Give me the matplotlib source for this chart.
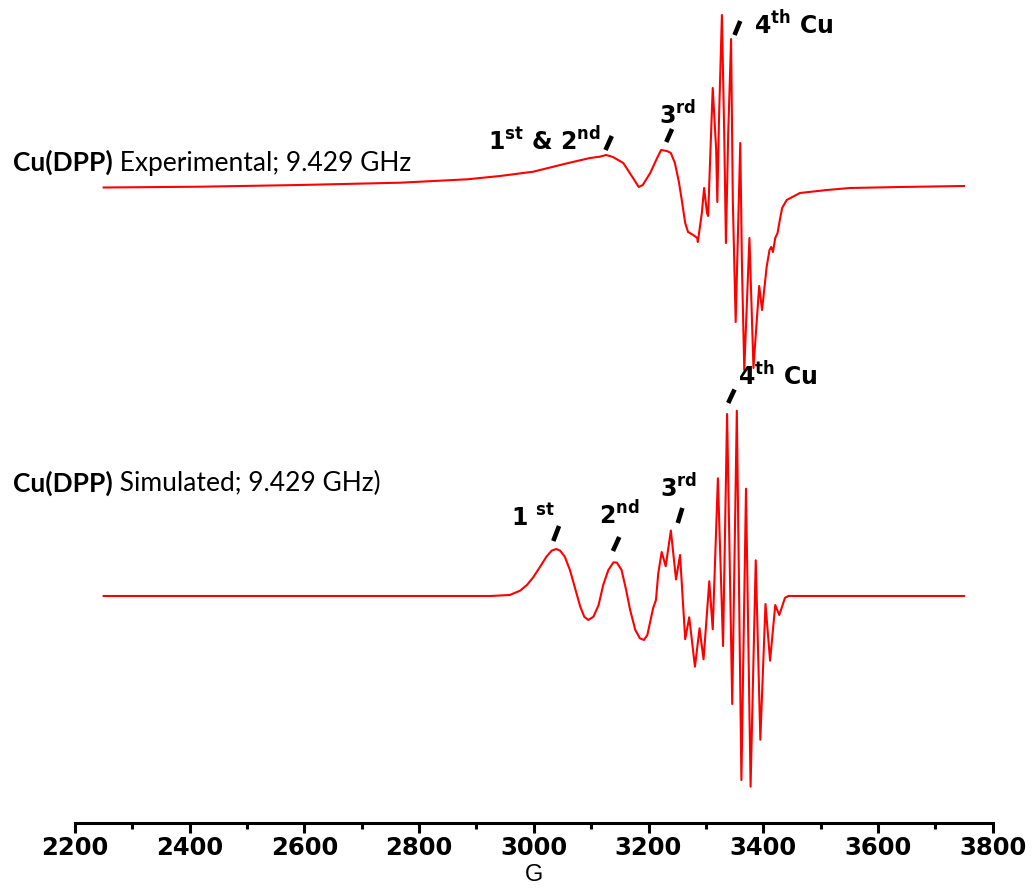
import matplotlib
matplotlib.use("Agg")
import matplotlib.pyplot as plt
from matplotlib.ticker import MultipleLocator

plt.rcParams['mathtext.fontset'] = 'custom'
plt.rcParams['mathtext.rm'] = 'DejaVu Sans:bold'
plt.rcParams['mathtext.bf'] = 'DejaVu Sans:bold'

# ---------------- data ----------------
# Experimental spectrum: field (G) and intensity (a.u., baseline ~0)
exp_field = [2250, 2418, 2592, 2767, 2884, 2941, 2999, 3058, 3098, 3115, 3126, 3138,
             3156, 3173, 3183, 3190, 3203, 3215, 3222, 3232, 3239, 3246, 3253, 3258,
             3264, 3269, 3278, 3285, 3286, 3293, 3297, 3302, 3304, 3307, 3312, 3318,
             3320, 3323, 3328, 3332, 3335, 3339, 3344, 3347, 3352, 3356, 3360, 3363,
             3367, 3376, 3383, 3393, 3398, 3406, 3411, 3414, 3417, 3421, 3425, 3429,
             3433, 3441, 3464, 3511, 3551, 3639, 3750]
exp_int = [-0.5, 0.3, 2, 4.3, 7.7, 11, 15.3, 23.7, 29, 30.3, 32, 30,
           24, 9, 0, 2, 14, 29, 37, 36, 34, 24, 5, -13,
           -36, -45, -48, -51, -55, -26, -1, -26, -29, 20, 99, 37,
           -15, 70, 172, 54, -56, 54, 148, -13, -135, -46, 44, -80,
           -183, -51, -181, -99, -123, -80, -63, -60, -65, -51, -46, -33,
           -21, -13, -6, -3, -1, 0, 1]

# Simulated spectrum
sim_field = [2250, 2924, 2958, 2976, 2988, 2999, 3011, 3022, 3031, 3039, 3046, 3054,
             3063, 3072, 3081, 3088, 3095, 3104, 3113, 3121, 3130, 3139, 3145, 3153,
             3161, 3168, 3177, 3185, 3192, 3198, 3203, 3208, 3213, 3217, 3223, 3230,
             3239, 3248, 3255, 3264, 3271, 3281, 3289, 3296, 3306, 3312, 3321, 3330,
             3337, 3346, 3354, 3362, 3370, 3378, 3387, 3395, 3404, 3412, 3421, 3428,
             3438, 3444, 3750]
sim_int = [0, 0, 1, 5.3, 11, 18.7, 29.3, 39.3, 45.3, 47, 45.3, 39.3,
           26, 7.7, -10.7, -20.7, -24, -20.7, -9, 11, 26, 33.7, 33.3, 26,
           6, -14, -34, -42.3, -44, -39, -25.7, -12.3, -4, 22.7, 44, 29.7,
           65.5, 16.5, 41, -43.2, -21.3, -70.7, -32.3, -63.3, 14.7, -33.3, 117.7, -50,
           182, -108, 185.3, -184, 107.3, -190.7, 35.7, -143.7, -8, -64.7, -9, -19,
           -1.8, 0, 0]

exp_offset = 409  # vertical stacking of the experimental trace

major_ticks = [2200, 2400, 2600, 2800, 3000, 3200, 3400, 3600, 3800]
xlabel = "G"

exp_label_bold = "Cu(DPP)"
exp_label_rest = " Experimental; 9.429 GHz"
sim_label_bold = "Cu(DPP)"
sim_label_rest = " Simulated; 9.429 GHz)"

# annotation texts: (text, x in G, baseline y)
annotations = [
    (r"4$^{\mathrm{th}}$ Cu", 3384, 562),
    (r"3$^{\mathrm{rd}}$", 3218, 472),
    (r"1$^{\mathrm{st}}$ & 2$^{\mathrm{nd}}$", 2921, 446),
    (r"1 $^{\mathrm{st}}$", 2960, 70),
    (r"2$^{\mathrm{nd}}$", 3114, 72),
    (r"3$^{\mathrm{rd}}$", 3220, 99),
    (r"4$^{\mathrm{th}}$ Cu", 3356, 211),
]
# tick marks (x0, y0, x1, y1)
slashes = [
    (3350, 561, 3360, 575),
    (3231, 454, 3241, 467),
    (3125, 446, 3136, 460),
    (3034, 55, 3044, 70),
    (3138, 45, 3149, 59),
    (3251, 73, 3259, 88),
    (3339, 193, 3350, 206.5),
]

# ---------------- figure ----------------
W, H = 1034, 892
fig = plt.figure(figsize=(W / 100, H / 100), dpi=100)
ax = fig.add_axes([75 / W, 69 / H, 917.6 / W, 823 / H])
ax.set_xlim(2200, 3800)
ax.set_ylim(-227, 596)

ax.plot(exp_field, [v + exp_offset for v in exp_int], color='#ff0000', lw=1.5)
ax.plot(sim_field, sim_int, color='#ff0000', lw=1.5)

for s in ['left', 'right', 'top']:
    ax.spines[s].set_visible(False)
ax.spines['bottom'].set_linewidth(2.2)
ax.set_yticks([])
ax.xaxis.set_major_locator(MultipleLocator(200))
ax.xaxis.set_minor_locator(MultipleLocator(100))
ax.set_xticks(major_ticks)
ax.tick_params(axis='x', which='major', length=7.5, width=2.2, direction='out', pad=2)
ax.tick_params(axis='x', which='minor', length=4.5, width=2.2, direction='out')
for lab in ax.get_xticklabels():
    lab.set_fontfamily('DejaVu Sans')
    lab.set_fontweight('bold')
    lab.set_fontsize(17.5)
ax.set_xlabel(xlabel, fontsize=17, family='Liberation Sans', labelpad=3)

for txt, x, y in annotations:
    ax.text(x, y, txt, fontsize=17, fontweight='bold', family='DejaVu Sans',
            ha='left', va='baseline')
for x0, y0, x1, y1 in slashes:
    ax.plot([x0, x1], [y0, y1], color='black', lw=3.3, solid_capstyle='butt')

# left side labels: bold part + regular part
fig.canvas.draw()
renderer = fig.canvas.get_renderer()
lab_family = ['Lato', 'DejaVu Sans']
for bold, rest, ybase in [(exp_label_bold, exp_label_rest, 425.5),
                          (sim_label_bold, sim_label_rest, 104.5)]:
    x0 = 2200 + (13 - 75) * 1.7437
    t1 = ax.text(x0, ybase, bold, fontsize=19, fontweight='bold', family=lab_family,
                 ha='left', va='baseline')
    bb = t1.get_window_extent(renderer)
    xr = ax.transData.inverted().transform((bb.x1, 0))[0]
    ax.text(xr, ybase, rest, fontsize=19, family=lab_family, ha='left', va='baseline')

fig.savefig("out.png", dpi=100)
